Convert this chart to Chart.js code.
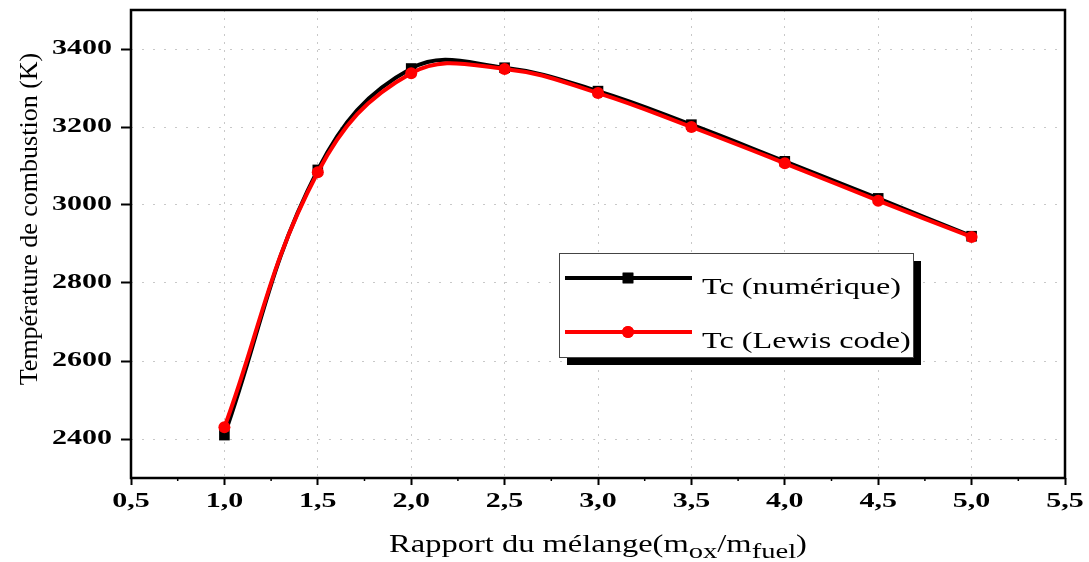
<!DOCTYPE html>
<html>
<head>
<meta charset="utf-8">
<script src="https://cdn.jsdelivr.net/npm/chart.js@4.4.1/dist/chart.umd.min.js"></script>
<style>
  body { margin: 0; background: #fff; }
  canvas { display: block; }
</style>
</head>
<body>
<canvas id="tcChart" width="1089" height="562"></canvas>
<script>
// mixture ratio values (m_ox / m_fuel)
const ratios = [1.0, 1.5, 2.0, 2.5, 3.0, 3.5, 4.0, 4.5, 5.0];
// combustion temperature (K)
const tcNumerique = [2410, 3090, 3350, 3352, 3292, 3206, 3112, 3017, 2920];
const tcLewis = [2430, 3084, 3338, 3349, 3287, 3200, 3107, 3011, 2918];

const xTicks = [0.5, 1.0, 1.5, 2.0, 2.5, 3.0, 3.5, 4.0, 4.5, 5.0, 5.5];
const yTicks = [2400, 2600, 2800, 3000, 3200, 3400];

const labelNum = 'Tc (numérique)';
const labelLewis = 'Tc (Lewis code)';
const xTitleParts = [
  { text: 'Rapport du mélange(m', sub: false },
  { text: 'ox', sub: true },
  { text: '/m', sub: false },
  { text: 'fuel', sub: true },
  { text: ')', sub: false }
];
const yTitle = 'Température de combustion (K)';

const SERIF = "'Liberation Serif', 'Times New Roman', serif";

function toPoints(ys) {
  return ratios.map((x, i) => ({ x: x, y: ys[i] }));
}

// text drawn a bit wider, like the stretched original figure
function wideText(ctx, text, x, y, font, sx, align) {
  ctx.save();
  ctx.font = font;
  ctx.fillStyle = '#000';
  ctx.textAlign = align;
  ctx.textBaseline = 'alphabetic';
  ctx.translate(x, y);
  ctx.scale(sx, 1);
  ctx.fillText(text, 0, 0);
  ctx.restore();
}

const framePlugin = {
  id: 'frame',
  afterDatasetsDraw(chart) {
    const { ctx, chartArea: a, scales } = chart;
    ctx.save();
    ctx.strokeStyle = '#000';
    ctx.lineWidth = 2.5;
    ctx.strokeRect(a.left, a.top, a.right - a.left, a.bottom - a.top);
    // small minor ticks on the x axis
    ctx.lineWidth = 1.5;
    for (let i = 0; i < xTicks.length - 1; i++) {
      const px = scales.x.getPixelForValue((xTicks[i] + xTicks[i + 1]) / 2);
      ctx.beginPath();
      ctx.moveTo(px, a.bottom);
      ctx.lineTo(px, a.bottom + 3);
      ctx.stroke();
    }
    ctx.restore();
  }
};

const textPlugin = {
  id: 'texts',
  afterDraw(chart) {
    const { ctx, chartArea: a, scales } = chart;

    // tick labels
    const tickFont = 'bold 20px ' + SERIF;
    scales.x.ticks.forEach(t => {
      const px = scales.x.getPixelForValue(t.value);
      wideText(ctx, t.value.toFixed(1).replace('.', ','), px, 507, tickFont, 1.5, 'center');
    });
    scales.y.ticks.forEach(t => {
      const py = scales.y.getPixelForValue(t.value);
      wideText(ctx, String(t.value), 112, py + 4.5, tickFont, 1.5, 'right');
    });

    // x title with subscripts
    const sx = 1.3;
    const mainFont = '25px ' + SERIF;
    const subFont = '22px ' + SERIF;
    ctx.save();
    let total = 0;
    xTitleParts.forEach(p => {
      ctx.font = p.sub ? subFont : mainFont;
      p.w = ctx.measureText(p.text).width * sx;
      total += p.w;
    });
    ctx.restore();
    let cx = (a.left + a.right) / 2 - total / 2;
    xTitleParts.forEach(p => {
      wideText(ctx, p.text, cx, p.sub ? 558 : 552, p.sub ? subFont : mainFont, sx, 'left');
      cx += p.w;
    });

    // y title
    ctx.save();
    ctx.font = '26px ' + SERIF;
    ctx.fillStyle = '#000';
    ctx.textAlign = 'center';
    ctx.translate(37, (a.top + a.bottom) / 2 - 25);
    ctx.rotate(-Math.PI / 2);
    ctx.fillText(yTitle, 0, 0);
    ctx.restore();

    // legend box with shadow
    const bx = 559, by = 253, bw = 354, bh = 104;
    ctx.save();
    ctx.fillStyle = '#000';
    ctx.fillRect(bx + 8, by + 8, bw, bh);
    ctx.fillStyle = '#fff';
    ctx.fillRect(bx, by, bw, bh);
    ctx.strokeStyle = '#444';
    ctx.lineWidth = 1;
    ctx.strokeRect(bx + 0.5, by + 0.5, bw, bh);
    ctx.restore();

    const entries = [
      { ds: chart.data.datasets[0], y: 278 },
      { ds: chart.data.datasets[1], y: 332 }
    ];
    entries.forEach(e => {
      ctx.save();
      ctx.strokeStyle = e.ds.borderColor;
      ctx.lineWidth = 4;
      ctx.beginPath();
      ctx.moveTo(565, e.y);
      ctx.lineTo(692, e.y);
      ctx.stroke();
      ctx.fillStyle = e.ds.pointBackgroundColor;
      Chart.helpers.drawPoint(ctx, {
        pointStyle: e.ds.pointStyle,
        radius: e.ds.pointRadius,
        borderWidth: 0,
        rotation: 0
      }, 628, e.y);
      ctx.fill();
      ctx.restore();
      wideText(ctx, e.ds.label, 702, e.y + 16, '23px ' + SERIF, 1.4, 'left');
    });
  }
};

const ctx = document.getElementById('tcChart').getContext('2d');
const tcChart = new Chart(ctx, {
  type: 'line',
  data: {
    datasets: [
      {
        label: labelNum,
        data: toPoints(tcNumerique),
        borderColor: '#000',
        backgroundColor: '#000',
        pointBackgroundColor: '#000',
        pointBorderWidth: 0,
        pointStyle: 'rect',
        pointRadius: 7.5,
        borderWidth: 4,
        tension: 0.4,
        order: 2
      },
      {
        label: labelLewis,
        data: toPoints(tcLewis),
        borderColor: '#ff0000',
        backgroundColor: '#ff0000',
        pointBackgroundColor: '#ff0000',
        pointBorderWidth: 0,
        pointStyle: 'circle',
        pointRadius: 6,
        borderWidth: 4,
        tension: 0.4,
        order: 1
      }
    ]
  },
  options: {
    responsive: false,
    animation: false,
    devicePixelRatio: 1,
    layout: { padding: { left: 0, right: 24, top: 10, bottom: 0 } },
    plugins: {
      legend: { display: false },
      tooltip: { enabled: false }
    },
    scales: {
      x: {
        type: 'linear',
        min: 0.5,
        max: 5.5,
        afterBuildTicks: s => { s.ticks = xTicks.map(v => ({ value: v })); },
        afterFit: s => { s.height = 84; },
        ticks: { display: false },
        grid: {
          color: '#c8c8c8',
          lineWidth: 1,
          drawTicks: true,
          tickLength: 7,
          tickWidth: 2,
          tickColor: '#000',
          tickBorderDash: []
        },
        border: { display: false, dash: [2, 6] }
      },
      y: {
        type: 'linear',
        min: 2300,
        max: 3500,
        afterBuildTicks: s => { s.ticks = yTicks.map(v => ({ value: v })); },
        afterFit: s => { s.width = 131; },
        ticks: { display: false },
        grid: {
          color: '#c8c8c8',
          lineWidth: 1,
          drawTicks: true,
          tickLength: 10,
          tickWidth: 2,
          tickColor: '#000',
          tickBorderDash: []
        },
        border: { display: false, dash: [2, 9] }
      }
    }
  },
  plugins: [framePlugin, textPlugin]
});
</script>
</body>
</html>
